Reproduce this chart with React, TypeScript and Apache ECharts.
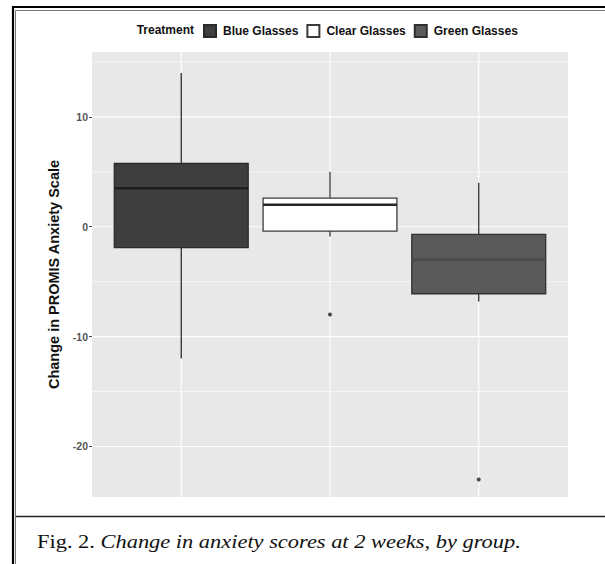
import React, { useEffect, useRef } from 'react';
import * as echarts from 'echarts';

// ---- data ----
const treatments = ['Blue Glasses', 'Clear Glasses', 'Green Glasses'];
// [lower whisker, Q1, median, Q3, upper whisker]
const blueStats = [-12, -1.9, 3.5, 5.75, 14];
const clearStats = [-0.9, -0.4, 2, 2.6, 5];
const greenStats = [-6.8, -6.1, -3, -0.7, 4];
const blueOutliers: number[] = [];
const clearOutliers = [-8];
const greenOutliers = [-23];
const yTickValues = [-20, -10, 0, 10];
const yMinorBreaks = [-15, -5, 5, 15];
const yLimits = [-24.6, 15.9];
const xLimits = [0.4, 3.6];

const FONT = '"Liberation Sans", Arial, sans-serif';
const SERIF = '"Liberation Serif", "Times New Roman", serif';

const styles = [
  { fill: '#3e3e3e', stroke: '#2a2a2a', median: '#1e1e1e' },
  { fill: '#ffffff', stroke: '#3a3a3a', median: '#262626' },
  { fill: '#5a5a5a', stroke: '#303030', median: '#4a4a4a' },
];

function boxSeries(name: string, idx: number, stats: number[], st: any) {
  return {
    type: 'custom',
    name,
    z: 3,
    silent: true,
    itemStyle: { color: st.fill, borderColor: st.stroke, borderWidth: 1 },
    encode: { x: 0, y: [1, 2, 3, 4, 5] },
    data: [[idx + 1, ...stats]],
    renderItem: (params: any, api: any) => {
      const x = api.value(0);
      const lo = api.value(1);
      const q1 = api.value(2);
      const med = api.value(3);
      const q3 = api.value(4);
      const hi = api.value(5);
      const half = api.size([0.9, 0])[0] / 2;
      const pLo = api.coord([x, lo]);
      const pQ1 = api.coord([x, q1]);
      const pMed = api.coord([x, med]);
      const pQ3 = api.coord([x, q3]);
      const pHi = api.coord([x, hi]);
      const cx = pMed[0];
      return {
        type: 'group',
        children: [
          { type: 'line', shape: { x1: cx, y1: pHi[1], x2: cx, y2: pQ3[1] }, style: { stroke: st.stroke, lineWidth: 1.3 } },
          { type: 'line', shape: { x1: cx, y1: pQ1[1], x2: cx, y2: pLo[1] }, style: { stroke: st.stroke, lineWidth: 1.3 } },
          {
            type: 'rect',
            shape: { x: cx - half, y: pQ3[1], width: half * 2, height: pQ1[1] - pQ3[1] },
            style: { fill: st.fill, stroke: st.stroke, lineWidth: 1.3 },
          },
          { type: 'line', shape: { x1: cx - half, y1: pMed[1], x2: cx + half, y2: pMed[1] }, style: { stroke: st.median, lineWidth: 2.6 } },
        ],
      };
    },
  };
}

export default function App() {
  const ref = useRef<HTMLDivElement>(null);
  useEffect(() => {
    if (!ref.current) return;
    const chart = echarts.init(ref.current, undefined, { renderer: 'svg' });

    const gridRows: number[][] = [
      ...yTickValues.map((v) => [0, v]),
      ...yMinorBreaks.map((v) => [1, v]),
      ...treatments.map((_, i) => [2, i + 1]),
    ];

    const outlierData: number[][] = [
      ...blueOutliers.map((v) => [1, v]),
      ...clearOutliers.map((v) => [2, v]),
      ...greenOutliers.map((v) => [3, v]),
    ];

    const option: any = {
      animation: false,
      backgroundColor: '#ffffff',
      grid: {
        left: 92,
        top: 52,
        width: 476,
        height: 445,
        show: true,
        backgroundColor: '#e8e8e8',
        borderWidth: 0,
      },
      xAxis: {
        type: 'value',
        min: xLimits[0],
        max: xLimits[1],
        show: false,
      },
      yAxis: {
        type: 'value',
        min: yLimits[0],
        max: yLimits[1],
        axisLine: { show: false },
        axisTick: { show: true, length: 3, customValues: yTickValues, lineStyle: { color: '#444', width: 1 } },
        axisLabel: {
          customValues: yTickValues,
          color: '#555',
          fontSize: 10.5,
          fontWeight: 'bold',
          fontFamily: FONT,
          margin: 4,
          formatter: (v: number) => (v % 10 === 0 ? String(v) : ''),
        },
        splitLine: { show: false },
        name: 'Change in PROMIS Anxiety Scale',
        nameLocation: 'middle',
        nameRotate: 90,
        nameGap: 30,
        nameTextStyle: { fontSize: 14.5, fontWeight: 'bold', color: '#111', fontFamily: FONT },
      },
      legend: {
        data: treatments,
        left: 203,
        top: 24,
        padding: 0,
        itemWidth: 12,
        itemHeight: 12,
        itemGap: 8,
        icon: 'rect',
        selectedMode: false,
        textStyle: { fontSize: 12, fontWeight: 'bold', color: '#111', fontFamily: FONT, padding: [0, 0, 0, 2] },
      },
      graphic: [
        { type: 'line', shape: { x1: 13, y1: 7, x2: 605, y2: 7 }, style: { stroke: '#000', lineWidth: 2.2 } },
        { type: 'line', shape: { x1: 13, y1: 6, x2: 13, y2: 564 }, style: { stroke: '#000', lineWidth: 2.2 } },
        { type: 'line', shape: { x1: 15.5, y1: 10.5, x2: 605, y2: 10.5 }, style: { stroke: '#777', lineWidth: 1 } },
        { type: 'line', shape: { x1: 15.5, y1: 10.5, x2: 15.5, y2: 564 }, style: { stroke: '#777', lineWidth: 1 } },
        { type: 'line', shape: { x1: 16, y1: 516.5, x2: 605, y2: 516.5 }, style: { stroke: '#222', lineWidth: 1.5 } },
        {
          type: 'text',
          x: 194,
          y: 30,
          style: {
            text: 'Treatment',
            fill: '#111',
            font: `bold 12px ${FONT}`,
            align: 'right',
            verticalAlign: 'middle',
          },
        },
        {
          type: 'text',
          x: 37,
          y: 541,
          scaleX: 1.18,
          style: {
            text: '{a|Fig. 2.} {b|Change in anxiety scores at 2 weeks, by group.}',
            fill: '#111',
            fontFamily: SERIF,
            fontSize: 19,
            verticalAlign: 'middle',
            rich: {
              a: { fontFamily: SERIF, fontSize: 19, fill: '#111' },
              b: { fontFamily: SERIF, fontSize: 19, fontStyle: 'italic', fill: '#111' },
            },
          },
        },
      ],
      series: [
        {
          type: 'custom',
          name: 'gridlines',
          z: 1,
          silent: true,
          data: gridRows,
          renderItem: (params: any, api: any) => {
            const kind = api.value(0);
            const v = api.value(1);
            if (kind === 2) {
              const a = api.coord([v, yLimits[0]]);
              const b = api.coord([v, yLimits[1]]);
              return { type: 'line', shape: { x1: a[0], y1: a[1], x2: b[0], y2: b[1] }, style: { stroke: '#ffffff', lineWidth: 1.1 } };
            }
            const a = api.coord([xLimits[0], v]);
            const b = api.coord([xLimits[1], v]);
            return {
              type: 'line',
              shape: { x1: a[0], y1: a[1], x2: b[0], y2: b[1] },
              style: { stroke: '#ffffff', lineWidth: kind === 0 ? 1.1 : 0.6 },
            };
          },
        },
        boxSeries(treatments[0], 0, blueStats, styles[0]),
        boxSeries(treatments[1], 1, clearStats, styles[1]),
        boxSeries(treatments[2], 2, greenStats, styles[2]),
        {
          type: 'scatter',
          name: 'outliers',
          z: 4,
          silent: true,
          symbolSize: 4,
          itemStyle: { color: '#1e1e1e' },
          data: outlierData,
        },
      ],
    };
    chart.setOption(option);
    return () => chart.dispose();
  }, []);

  return (
    <div
      ref={ref}
      style={{ position: 'fixed', left: 0, top: 0, width: 605, height: 564, background: '#fff' }}
    />
  );
}
